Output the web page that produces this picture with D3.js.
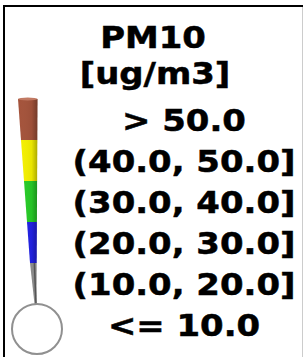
<!DOCTYPE html>
<html>
<head>
<meta charset="utf-8">
<script src="https://cdn.jsdelivr.net/npm/d3@7"></script>
<style>
	body { margin: 0; background: #fff; }
	svg { display: block; }
</style>
</head>
<body>
<div id="legend-container"></div>
<script>
// legend data
var title = "PM10";
var unit = "[ug/m3]";
var bandLows = [50, 40, 30, 20, 10, 0];
var bandHighs = [60, 50, 40, 30, 20, 10];
var bandLabels = ["> 50.0", "(40.0, 50.0]", "(30.0, 40.0]", "(20.0, 30.0]", "(10.0, 20.0]", "<= 10.0"];
var bandColors = ["#a4533b", "#f4f000", "#27cc27", "#2222e6", "#8a8a8a", "#ffffff"];

function whenDocumentLoaded(action) {
	if (document.readyState === "loading") {
		document.addEventListener("DOMContentLoaded", action);
	} else {
		action();
	}
}

whenDocumentLoaded(() => {
	var width = 304,
		height = 357,
		svg = d3.select("#legend-container").append("svg")
			.attr("width", width)
			.attr("height", height);

	// value -> vertical position along the tube
	var y = d3.scaleLinear().domain([10, 60]).range([304, 99]);
	// value -> left edge of the tapering tube (right edge stays put)
	var leftX = d3.scaleLinear().domain([10, 20, 60]).range([34.5, 30, 18]);
	var rightX = d3.scaleLinear().domain([10, 60]).range([36.5, 37.5]);

	// frame
	svg.append("path")
		.attr("d", "M4,357V6H303")
		.attr("fill", "none")
		.attr("stroke", "#000")
		.attr("stroke-width", 2);
	svg.append("line")
		.attr("x1", 302.5).attr("x2", 302.5)
		.attr("y1", 7).attr("y2", height)
		.attr("stroke", "#ccc")
		.attr("stroke-width", 1);

	// tube bands (skip the bulb band)
	var tube = svg.append("g").attr("class", "tube");
	bandLows.forEach(function(lo, i) {
		if (lo < 10) return;
		var hi = bandHighs[i];
		var pts = [[leftX(hi), y(hi)], [rightX(hi), y(hi)], [rightX(lo), y(lo)], [leftX(lo), y(lo)]];
		tube.append("path")
			.attr("d", "M" + pts.join("L") + "Z")
			.attr("fill", bandColors[i]);
		if (lo === 10) {
			// thin stem: darker core line
			tube.append("line")
				.attr("x1", (leftX(hi) + rightX(hi)) / 2 + 1).attr("y1", y(hi))
				.attr("x2", 36).attr("y2", y(lo))
				.attr("stroke", "#555")
				.attr("stroke-width", 1.5);
		}
	});

	// shading on the right side of the tube
	var shade = svg.append("defs").append("linearGradient")
		.attr("id", "shade")
		.attr("x1", "0").attr("x2", "1");
	shade.append("stop").attr("offset", "0").attr("stop-color", "#fff").attr("stop-opacity", 0);
	shade.append("stop").attr("offset", "0.7").attr("stop-color", "#000").attr("stop-opacity", 0.05);
	shade.append("stop").attr("offset", "1").attr("stop-color", "#000").attr("stop-opacity", 0.3);
	tube.append("path")
		.attr("d", "M" + [[leftX(60), y(60)], [rightX(60), y(60)], [rightX(20), y(20)], [leftX(20), y(20)]].join("L") + "Z")
		.attr("fill", "url(#shade)");
	// rounded top cap
	tube.append("ellipse")
		.attr("cx", (leftX(60) + rightX(60)) / 2)
		.attr("cy", y(60))
		.attr("rx", (rightX(60) - leftX(60)) / 2)
		.attr("ry", 1.5)
		.attr("fill", "#c27a63");

	// bulb
	svg.append("circle")
		.attr("cx", 37)
		.attr("cy", y(10) + 25)
		.attr("r", 25)
		.attr("fill", bandColors[5])
		.attr("stroke", "#909090")
		.attr("stroke-width", 2);

	// texts, stretched a bit horizontally like the original
	var sx = 1.13;
	var textGroup = svg.append("g")
		.style("font-family", "'DejaVu Sans', Verdana, sans-serif")
		.style("font-weight", "bold")
		.style("font-size", "30px")
		.attr("fill", "#000")
		.attr("stroke", "#000")
		.attr("stroke-width", 0.5)
		.attr("text-anchor", "middle");

	function addText(txt, cx, baseline) {
		textGroup.append("text")
			.attr("transform", "translate(" + cx + "," + baseline + ") scale(" + sx + ",1)")
			.text(txt);
	}

	addText(title, 153, 48);
	addText(unit, 155, 84);

	bandLabels.forEach(function(lbl, i) {
		var mid = (bandLows[i] + bandHighs[i]) / 2;
		addText(lbl, 184, y(mid) + 11);
	});
});
</script>
</body>
</html>
